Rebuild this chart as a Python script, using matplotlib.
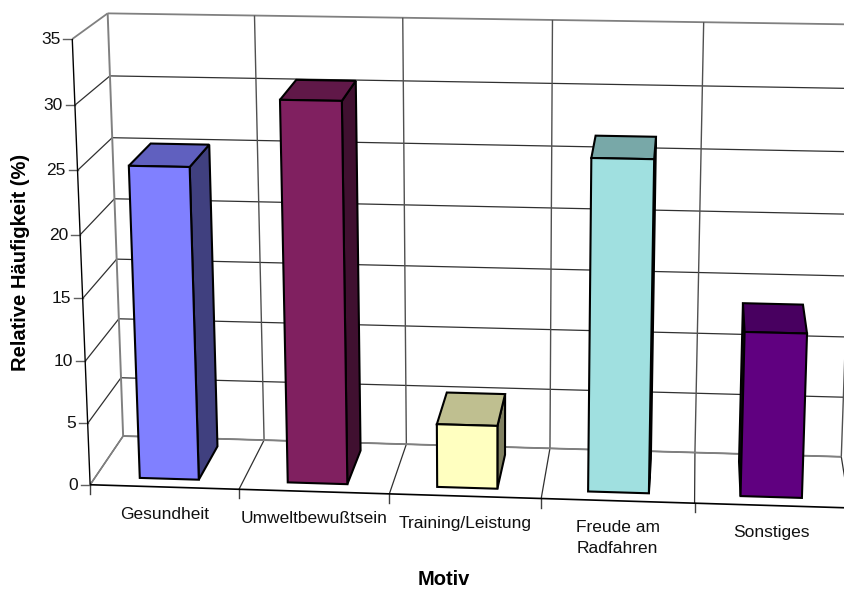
import numpy as np
import matplotlib
matplotlib.use("Agg")
import matplotlib.pyplot as plt
from matplotlib.patches import Polygon

plt.rcParams["font.family"] = ["Liberation Sans", "DejaVu Sans"]

categories = ["Gesundheit", "Umweltbewußtsein", "Training/Leistung", "Freude am\nRadfahren", "Sonstiges"]
values = [25.0, 30.3, 5.1, 26.3, 13.1]
y_ticks = [0, 5, 10, 15, 20, 25, 30, 35]

front_colors = ["#8080FF", "#802060", "#FFFFC0", "#A0E0E0", "#600080"]
top_colors = ["#6060BF", "#601848", "#BFBF90", "#78A8A8", "#480060"]
side_colors = ["#40407F", "#401030", "#7F7F60", "#507070", "#300040"]

BAR_LO, BAR_HI = 0.30, 0.70
DEPTH_LO, DEPTH_HI = 0.16, 0.84
GRID_DARK = "#303030"
GRID_GRAY = "#808080"

# (category pos, value, depth) -> pixel, used to solve the camera below
world = []
screen = []
for i, uv in enumerate([(90.5, 485), (239, 489), (389.5, 494), (541, 498.5), (694, 503), (850, 508)]):
    world.append((i, 0, 0))
    screen.append(uv)
for i, uv in enumerate([(123.5, 436), (264, 440), (406, 444), (549, 449), (695, 453), (842, 456)]):
    world.append((i, 0, 1))
    screen.append(uv)
for i, uv in enumerate([(107.7, 13.3), (254, 15.5), (403, 17.5), (553, 20), (705, 22.5), (855, 24.5)]):
    world.append((i, 35, 1))
    screen.append(uv)
world.append((0, 35, 0))
screen.append((72, 39))


def solve_camera(world, screen):
    rows = []
    for (x, y, z), (u, v) in zip(world, screen):
        rows.append([x, y, z, 1, 0, 0, 0, 0, -u * x, -u * y, -u * z, -u])
        rows.append([0, 0, 0, 0, x, y, z, 1, -v * x, -v * y, -v * z, -v])
    _, _, vt = np.linalg.svd(np.array(rows, dtype=float))
    return vt[-1].reshape(3, 4)


camera = solve_camera(world, screen)


def project(x, y, z):
    u, v, w = camera @ np.array([x, y, z, 1.0])
    return u / w, v / w


def line3d(ax, a, b, color=GRID_DARK, lw=0.9, zorder=1):
    pa, pb = project(*a), project(*b)
    ax.plot([pa[0], pb[0]], [pa[1], pb[1]], color=color, lw=lw, zorder=zorder,
            solid_capstyle="butt")


def face(ax, corners, color, zorder):
    pts = [project(*c) for c in corners]
    ax.add_patch(Polygon(pts, closed=True, facecolor=color, edgecolor="black",
                         lw=1.5, joinstyle="miter", zorder=zorder))


fig = plt.figure(figsize=(8.45, 5.9), dpi=100)
ax = fig.add_axes([0, 0, 1, 1])
ax.set_xlim(0, 845)
ax.set_ylim(590, 0)
ax.axis("off")

n = len(categories)

# walls and floor
for t in y_ticks:
    col = GRID_GRAY if t == 35 else GRID_DARK
    line3d(ax, (0, t, 1), (n, t, 1), col, lw=1.3 if t == 35 else 0.9)
    line3d(ax, (0, t, 0), (0, t, 1), col, lw=1.3 if t == 35 else 0.9)
    p = project(0, t, 0)
    ax.plot([p[0] - 9, p[0]], [p[1], p[1]], color="#606060", lw=1.0, zorder=1)
    ax.text(p[0] - 12, p[1] + 0.5, str(t), ha="right", va="center", fontsize=12.5, color="#111111")
for i in range(n + 1):
    col = GRID_GRAY if i == 0 else GRID_DARK
    line3d(ax, (i, 0, 1), (i, 35, 1), GRID_GRAY if i == 0 else "#505050", lw=1.4 if i == 0 else 1.0)
    line3d(ax, (i, 0, 0), (i, 0, 1), col, lw=1.2 if i == 0 else 0.9)
    p = project(i, 0, 0)
    ax.plot([p[0], p[0]], [p[1], p[1] + 9], color="#404040", lw=1.0, zorder=1)
line3d(ax, (0, 0, 1), (n, 0, 1), GRID_GRAY, lw=1.3)
line3d(ax, (0, 0, 0), (n, 0, 0), "black", lw=1.2, zorder=2)
line3d(ax, (0, 0, 0), (0, 35, 0), "black", lw=1.0, zorder=2)

# bars, left to right
for i, val in enumerate(values):
    x0, x1 = i + BAR_LO, i + BAR_HI
    z0, z1 = DEPTH_LO, DEPTH_HI
    right_seen = project(x1, val, z1)[0] > project(x1, val, z0)[0]
    left_seen = project(x0, val, z1)[0] < project(x0, val, z0)[0]
    if right_seen:
        face(ax, [(x1, 0, z0), (x1, 0, z1), (x1, val, z1), (x1, val, z0)], side_colors[i], 3)
    if left_seen:
        face(ax, [(x0, 0, z0), (x0, 0, z1), (x0, val, z1), (x0, val, z0)], side_colors[i], 3)
    face(ax, [(x0, val, z0), (x1, val, z0), (x1, val, z1), (x0, val, z1)], top_colors[i], 4)
    face(ax, [(x0, 0, z0), (x1, 0, z0), (x1, val, z0), (x0, val, z0)], front_colors[i], 5)

    p = project(i + 0.5, 0, 0)
    ax.text(p[0], p[1] + 19.5, categories[i], ha="center", va="top", fontsize=12.5,
            color="#111111", linespacing=1.45, zorder=6)

ax.text(21, 262, "Relative Häufigkeit (%)", rotation=90, ha="center", va="center",
        fontsize=14.5, fontweight="bold", color="black")
ax.text(444, 585, "Motiv", ha="center", va="baseline", fontsize=14.5, fontweight="bold", color="black")

fig.savefig("out.png", dpi=100)
